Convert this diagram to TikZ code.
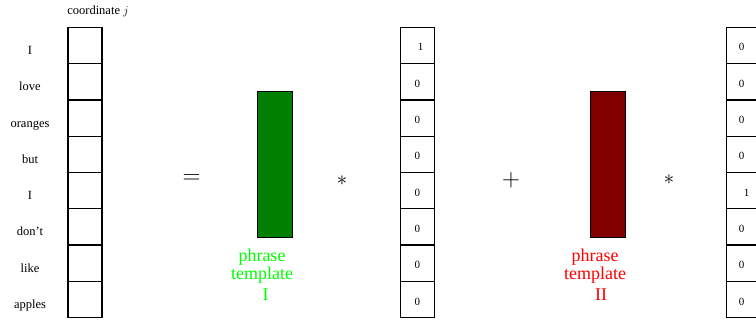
\documentclass[tikz,border=0pt]{standalone}
\usepackage{fontspec}
\setmainfont{Liberation Serif}
\definecolor{tgreen}{RGB}{0,128,0}
\definecolor{tred}{RGB}{128,0,0}
\definecolor{lgreen}{RGB}{0,255,0}
\definecolor{lred}{RGB}{255,0,0}
\begin{document}
\begin{tikzpicture}[x=1pt,y=-1pt,
  cell/.style={draw,line width=1.3pt,minimum width=34pt,minimum height=36.3pt,inner sep=0pt,outer sep=0pt},
  word/.style={font=\fontsize{12.5}{14}\selectfont,anchor=base,inner sep=0pt},
  num/.style={font=\fontsize{11}{12}\selectfont,anchor=base,inner sep=0pt},
  tmpl/.style={draw,line width=0.9pt,minimum width=34.3pt,minimum height=146pt,inner sep=0pt},
  lab/.style={font=\fontsize{18}{15}\selectfont,align=center,anchor=north,inner sep=0pt},
  op/.style={font=\fontsize{26}{30}\selectfont,inner sep=0pt},
  star/.style={font=\fontsize{22}{26}\selectfont,inner sep=0pt}]
\clip (0,0) rectangle (756,320);
% left column
\foreach \i in {1,...,8}
  \node[cell] (w\i) at (85,{9.15+36.3*\i}) {};
\foreach \w [count=\i] in {I,love,oranges,but,I,don't,like,apples}
  \node[word] (t\i) at (30,{18.15+36.3*\i}) {\w};
\node[font=\fontsize{12.5}{14}\selectfont,inner sep=0pt] (coord) at (98,11.5) {coordinate $j$};
% middle column
\foreach \i in {1,...,8}
  \node[cell] (m\i) at (417.7,{9.15+36.3*\i}) {};
\node[num] (mn1) at (420.7,{14.65+36.3*1}) {1};
\foreach \i in {2,...,8}
  \node[num] (mn\i) at (417.3,{14.65+36.3*\i}) {0};
% right column
\foreach \i in {1,...,8}
  \node[cell] (r\i) at (743.5,{9.15+36.3*\i}) {};
\foreach \i in {1,2,3,4,6,7,8}
  \node[num] (rn\i) at (741.7,{14.65+36.3*\i}) {0};
\node[num] (rn5) at (746.7,{14.65+36.3*5}) {1};
% templates
\node[tmpl,fill=tgreen] (g) at (274.85,164.7) {};
\node[tmpl,fill=tred] (rd) at (608,164.7) {};
\node[lab,text=lgreen] (gl) at (262,249) {phrase\\template\\[5pt]\hspace*{7pt}I};
\node[lab,text=lred] (rl) at (595,249) {phrase\\template\\[5pt]\hspace*{12pt}II};
% operators
\node[op] (eq) at (191.7,179.5) {$=$};
\node[star] (s1) at (342,181) {$\ast$};
\node[op] (pl) at (511,180) {$+$};
\node[star] (s2) at (669,180) {$\ast$};
\end{tikzpicture}
\end{document}
